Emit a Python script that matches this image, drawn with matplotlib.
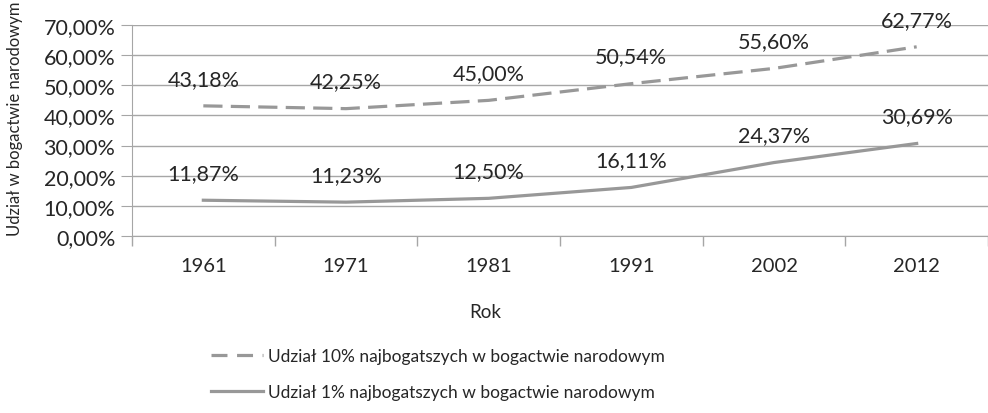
import matplotlib
matplotlib.use("Agg")
import matplotlib.pyplot as plt
from matplotlib.lines import Line2D
from matplotlib.ticker import FuncFormatter, MultipleLocator, FixedLocator

# Dane
years = ["1961", "1971", "1981", "1991", "2002", "2012"]
top10 = [43.18, 42.25, 45.00, 50.54, 55.60, 62.77]
top1 = [11.87, 11.23, 12.50, 16.11, 24.37, 30.69]
label10 = "Udział 10% najbogatszych w bogactwie narodowym"
label1 = "Udział 1% najbogatszych w bogactwie narodowym"

plt.rcParams["font.family"] = ["Lato", "DejaVu Sans"]
NUM_FS = 15.5
TXT_FS = 12.5
LINE_COLOR = "#989898"
GRID_COLOR = "#a6a6a6"
TEXT_COLOR = "#262626"
DASH = (0, (6, 2.6))


def pl_pct(v, pos=None):
    return f"{v:.2f}".replace(".", ",") + "%"


fig = plt.figure(figsize=(9.88, 4.14), dpi=100)
ax = fig.add_axes([132 / 988, 177 / 414, 856 / 988, 211 / 414])

x = range(len(years))
ax.plot(x, top10, color=LINE_COLOR, lw=2.3, ls=DASH, solid_capstyle="butt")
ax.plot(x, top1, color=LINE_COLOR, lw=2.3)

# etykiety danych nad punktami
for i in x:
    for vals in (top10, top1):
        ax.annotate(pl_pct(vals[i]), (i, vals[i]), xytext=(0, 19.5), textcoords="offset points",
                    ha="center", va="center", fontsize=NUM_FS, color=TEXT_COLOR)

ax.set_xlim(-0.5, len(years) - 0.5)
ax.set_ylim(0, 70)
ax.yaxis.set_major_locator(MultipleLocator(10))
ax.yaxis.set_major_formatter(FuncFormatter(pl_pct))
ax.set_xticks(list(x))
ax.set_xticklabels(years)
ax.xaxis.set_minor_locator(FixedLocator([i + 0.5 for i in range(-1, len(years))]))
ax.tick_params(axis="x", which="major", length=0, pad=15, labelsize=14.5, labelcolor=TEXT_COLOR)
ax.tick_params(axis="x", which="minor", length=7, color=GRID_COLOR, width=1)
ax.tick_params(axis="y", length=8, color=GRID_COLOR, labelsize=NUM_FS, labelcolor=TEXT_COLOR, pad=4)

ax.grid(axis="y", color=GRID_COLOR, lw=1)
ax.set_axisbelow(True)
for s in ["top", "right"]:
    ax.spines[s].set_visible(False)
ax.spines["left"].set_color(GRID_COLOR)
ax.spines["bottom"].set_color(GRID_COLOR)

fig.text(15 / 988, 1 - 119 / 414, "Udział w bogactwie narodowym", rotation=90,
         ha="center", va="center", fontsize=12, color=TEXT_COLOR)
fig.text(485 / 988, 1 - 313 / 414, "Rok", ha="center", va="center", fontsize=13.5, color=TEXT_COLOR)

handles = [Line2D([], [], color=LINE_COLOR, lw=2.3, ls=(0, (5, 3))),
           Line2D([], [], color=LINE_COLOR, lw=2.3)]
fig.legend(handles, [label10, label1], loc="center", bbox_to_anchor=(438 / 988, 1 - 375 / 414),
           frameon=False, fontsize=TXT_FS, handlelength=3.0, handletextpad=0.3, labelspacing=1.2,
           labelcolor=TEXT_COLOR)

fig.savefig("out.png", dpi=100)
